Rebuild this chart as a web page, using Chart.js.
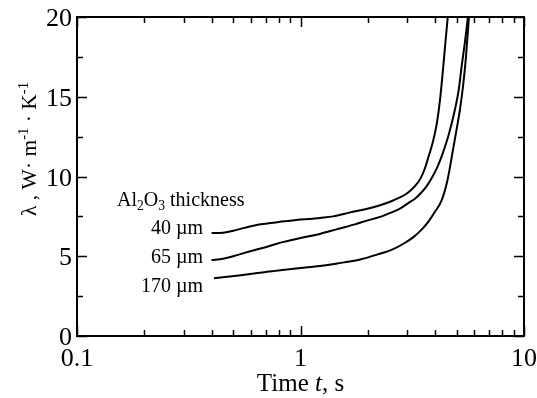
<!DOCTYPE html>
<html>
<head>
<meta charset="utf-8">
<script src="https://cdn.jsdelivr.net/npm/chart.js@4/dist/chart.umd.min.js"></script>
<style>
  html, body { margin: 0; padding: 0; background: #fff; }
  #wrap { width: 537px; height: 398px; }
</style>
</head>
<body>
<div id="wrap"><canvas id="chart" width="537" height="398"></canvas></div>
<script>
// Data (time in s, lambda in W/(m K))
const xMajor = [0.1, 1, 10];
const xLabels = ['0.1', '1', '10'];
const yMin = 0, yMax = 20, yStep = 5;

const time40 = [0.40, 0.45, 0.50, 0.56, 0.63, 0.71, 0.80, 0.90, 1.00, 1.10, 1.22, 1.40, 1.67, 1.95, 2.27, 2.55, 2.80, 3.00, 3.15, 3.30, 3.45, 3.60, 3.75, 3.90, 4.07, 4.21, 4.34, 4.45, 4.56];
const lambda40 = [6.45, 6.47, 6.60, 6.78, 6.95, 7.05, 7.15, 7.22, 7.30, 7.33, 7.40, 7.50, 7.75, 7.95, 8.20, 8.45, 8.70, 8.95, 9.20, 9.50, 9.90, 10.5, 11.3, 12.1, 13.3, 14.8, 16.7, 18.4, 20.0];

const time65 = [0.40, 0.45, 0.50, 0.59, 0.71, 0.84, 1.00, 1.22, 1.46, 1.75, 2.00, 2.25, 2.50, 2.80, 3.05, 3.25, 3.45, 3.67, 3.90, 4.10, 4.34, 4.60, 4.91, 5.10, 5.26, 5.45, 5.61];
const lambda65 = [4.76, 4.85, 5.00, 5.30, 5.60, 5.90, 6.15, 6.40, 6.70, 7.00, 7.25, 7.45, 7.70, 8.00, 8.35, 8.60, 8.95, 9.40, 10.0, 10.6, 11.5, 12.6, 14.2, 15.4, 16.9, 18.5, 20.0];

const time170 = [0.41, 0.47, 0.55, 0.63, 0.71, 0.85, 1.00, 1.22, 1.46, 1.85, 2.20, 2.60, 2.90, 3.20, 3.50, 3.75, 4.00, 4.28, 4.55, 4.81, 5.00, 5.17, 5.35, 5.50, 5.67];
const lambda170 = [3.62, 3.72, 3.82, 3.93, 4.03, 4.15, 4.26, 4.39, 4.55, 4.80, 5.10, 5.45, 5.80, 6.20, 6.70, 7.20, 7.80, 8.50, 9.80, 11.66, 13.0, 14.2, 15.8, 17.5, 20.0];

const SERIF = '"Liberation Serif", "DejaVu Serif", serif';

function toPoints(xs, ys) {
  return xs.map((x, i) => ({ x: x, y: ys[i] }));
}

function curve(label, xs, ys) {
  return {
    label: label,
    data: toPoints(xs, ys),
    borderColor: '#000',
    borderWidth: 2,
    pointRadius: 0,
    fill: false,
    cubicInterpolationMode: 'monotone'
  };
}

// draw a row of text pieces (normal / sub / sup / italic)
function drawPieces(ctx, pieces, x, y, size) {
  let cx = x;
  pieces.forEach(p => {
    const s = p.small ? size * 0.68 : size;
    ctx.font = (p.italic ? 'italic ' : '') + s + 'px ' + SERIF;
    let dy = 0;
    if (p.sub) dy = size * 0.22;
    if (p.sup) dy = -size * 0.38;
    ctx.fillText(p.t, cx, y + dy);
    cx += ctx.measureText(p.t).width;
  });
  return cx - x;
}

function measurePieces(ctx, pieces, size) {
  let w = 0;
  pieces.forEach(p => {
    const s = p.small ? size * 0.68 : size;
    ctx.font = (p.italic ? 'italic ' : '') + s + 'px ' + SERIF;
    w += ctx.measureText(p.t).width;
  });
  return w;
}

// frame with inward ticks, tick labels, axis titles and curve labels
const framePlugin = {
  id: 'frame',
  afterDraw(chart) {
    const ctx = chart.ctx;
    const a = chart.chartArea;
    const xs = chart.scales.x, ys = chart.scales.y;
    ctx.save();
    ctx.strokeStyle = '#000';
    ctx.lineWidth = 2;
    ctx.strokeRect(a.left, a.top, a.right - a.left, a.bottom - a.top);

    ctx.lineWidth = 1.5;
    ctx.beginPath();
    // x ticks (log decades)
    for (let d = 0.1; d < 10; d *= 10) {
      for (let k = 1; k <= 10; k++) {
        const v = d * k;
        const px = Math.round(xs.getPixelForValue(v)) + 0.5;
        const len = (k === 1 || k === 10) ? 10 : 6;
        ctx.moveTo(px, a.bottom); ctx.lineTo(px, a.bottom - len);
        ctx.moveTo(px, a.top); ctx.lineTo(px, a.top + len);
      }
    }
    // y ticks
    for (let v = yMin; v <= yMax; v += yStep / 2) {
      const py = Math.round(ys.getPixelForValue(v)) + 0.5;
      const len = (v % yStep === 0) ? 10 : 6;
      ctx.moveTo(a.left, py); ctx.lineTo(a.left + len, py);
      ctx.moveTo(a.right, py); ctx.lineTo(a.right - len, py);
    }
    ctx.stroke();

    ctx.fillStyle = '#000';
    ctx.textBaseline = 'alphabetic';

    // tick labels
    ctx.font = '26px ' + SERIF;
    ctx.textAlign = 'center';
    xMajor.forEach((v, i) => {
      ctx.fillText(xLabels[i], xs.getPixelForValue(v), a.bottom + 30);
    });
    ctx.textAlign = 'right';
    for (let v = yMin; v <= yMax; v += yStep) {
      ctx.fillText(String(v), a.left - 5, ys.getPixelForValue(v) + 9);
    }

    ctx.textAlign = 'left';
    // x title
    const xt = [{ t: 'Time ' }, { t: 't', italic: true }, { t: ', s' }];
    const xw = measurePieces(ctx, xt, 25);
    drawPieces(ctx, xt, (a.left + a.right) / 2 - xw / 2, 391, 25);

    // y title (rotated)
    const yt = [{ t: 'λ' }, { t: ' , ' }, { t: 'W' }, { t: '·' }, { t: ' m' }, { t: '-1', small: true, sup: true },
                { t: ' · ' }, { t: 'K' }, { t: '-1', small: true, sup: true }];
    const yw = measurePieces(ctx, yt, 21.5);
    ctx.save();
    ctx.translate(36, 149);
    ctx.rotate(-Math.PI / 2);
    drawPieces(ctx, yt, -yw / 2, 0, 21.5);
    ctx.restore();

    // curve labels
    drawPieces(ctx, [{ t: 'Al' }, { t: '2', small: true, sub: true }, { t: 'O' }, { t: '3', small: true, sub: true }, { t: ' thickness' }], 117, 206, 20);
    ctx.textAlign = 'right';
    ctx.font = '20px ' + SERIF;
    ctx.fillText('40 µm', 203, 234);
    ctx.fillText('65 µm', 203, 263);
    ctx.fillText('170 µm', 203, 292);
    ctx.restore();
  }
};

new Chart(document.getElementById('chart').getContext('2d'), {
  type: 'line',
  data: {
    datasets: [
      curve('40 µm', time40, lambda40),
      curve('65 µm', time65, lambda65),
      curve('170 µm', time170, lambda170)
    ]
  },
  options: {
    responsive: false,
    animation: false,
    layout: { padding: { top: 17, right: 13, left: 0, bottom: 0 } },
    plugins: {
      legend: { display: false },
      tooltip: { enabled: false }
    },
    scales: {
      x: {
        type: 'logarithmic',
        min: 0.1,
        max: 10,
        afterFit: scale => { scale.height = 62; },
        grid: { display: false, drawTicks: false },
        border: { display: false },
        ticks: { display: false }
      },
      y: {
        min: yMin,
        max: yMax,
        afterFit: scale => { scale.width = 77; },
        grid: { display: false, drawTicks: false },
        border: { display: false },
        ticks: { display: false, stepSize: yStep }
      }
    }
  },
  plugins: [framePlugin]
});
</script>
</body>
</html>
